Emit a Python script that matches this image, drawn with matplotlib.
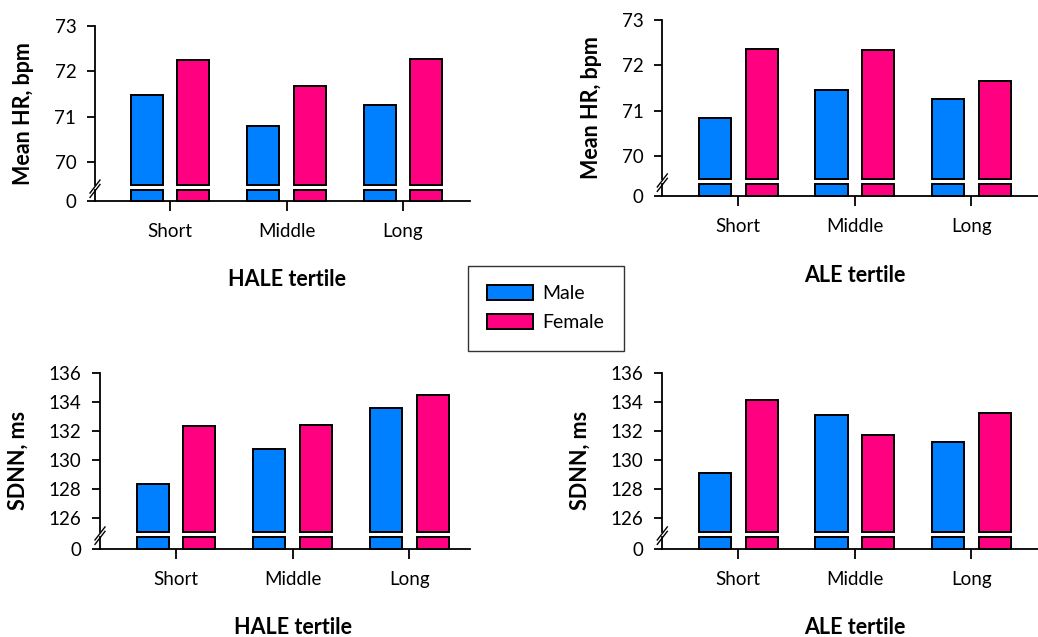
import matplotlib
matplotlib.use("Agg")
import matplotlib.pyplot as plt
import matplotlib.transforms as mtransforms
from matplotlib.lines import Line2D
import numpy as np

plt.rcParams['font.family'] = ['Lato', 'DejaVu Sans']

# ---------------- data ----------------
categories = ["Short", "Middle", "Long"]
series_names = ["Male", "Female"]

hale_hr_male = [71.48, 70.80, 71.25]
hale_hr_female = [72.25, 71.67, 72.26]
ale_hr_male = [70.84, 71.45, 71.26]
ale_hr_female = [72.35, 72.34, 71.65]

hale_sdnn_male = [128.32, 130.70, 133.56]
hale_sdnn_female = [132.33, 132.40, 134.46]
ale_sdnn_male = [129.08, 133.05, 131.22]
ale_sdnn_female = [134.13, 131.67, 133.19]

hr_ticks = [70, 71, 72, 73]
sdnn_ticks = [126, 128, 130, 132, 134, 136]

# ---------------- style ----------------
W, H = 1038, 637
BLUE = "#0080FF"
PINK = "#FF0080"
LW = 1.4
TICK_FS = 13.5
LABEL_FS = 15.5
fig = plt.figure(figsize=(W / 100, H / 100), dpi=100)


def rect(left, right, top, bottom):
    return [left / W, 1 - bottom / H, (right - left) / W, (bottom - top) / H]


def panel(male, female, ticks, ylow, ylabel, xlabel, axis_x, right, y_top, y_ub,
          y_lt, y_base, tick0, spacing, ylab_x, xlab_y):
    x = np.arange(len(categories))
    xlim = (-(tick0 - axis_x) / spacing, (right - tick0) / spacing)
    up = fig.add_axes(rect(axis_x, right, y_top, y_ub))
    lo = fig.add_axes(rect(axis_x, right, y_lt, y_base))
    for a in (up, lo):
        a.set_xlim(*xlim)
        a.spines['top'].set_visible(False)
        a.spines['right'].set_visible(False)
        a.spines['left'].set_linewidth(1.3)
        a.spines['bottom'].set_linewidth(1.3)
        a.tick_params(axis='y', direction='out', length=6, width=1.3,
                      labelsize=TICK_FS, pad=7.5)
        a.patch.set_alpha(0)
    up.spines['bottom'].set_visible(False)
    up.set_ylim(ylow, ticks[-1])
    up.set_yticks(ticks)
    up.set_xticks([])
    male_v = np.array(male)
    female_v = np.array(female)
    bw = 0.275
    off = 0.2
    b1 = up.bar(x - off, male_v - ylow, bottom=ylow, width=bw, color=BLUE,
                edgecolor='black', linewidth=LW, clip_on=False, label=series_names[0])
    b2 = up.bar(x + off, female_v - ylow, bottom=ylow, width=bw, color=PINK,
                edgecolor='black', linewidth=LW, clip_on=False, label=series_names[1])
    lo.set_ylim(0, 1)
    lo.set_yticks([0])
    lo.set_yticklabels(["0"])
    lo.bar(x - off, 1, width=bw, color=BLUE, edgecolor='black', linewidth=LW,
           clip_on=False)
    lo.bar(x + off, 1, width=bw, color=PINK, edgecolor='black', linewidth=LW,
           clip_on=False)
    lo.set_xticks(x)
    lo.set_xticklabels(categories)
    lo.tick_params(axis='x', direction='out', length=7, width=1.3,
                   labelsize=TICK_FS, pad=9)
    # axis break marks
    cy = (y_ub + y_lt) / 2 + 1
    for d in (-2.2, 2.2):
        fig.add_artist(Line2D([(axis_x - 5) / W, (axis_x + 5) / W],
                              [1 - (cy + d + 6.5) / H, 1 - (cy + d - 6.5) / H],
                              color='black', linewidth=1.0))
    # axis labels
    fig.text(ylab_x / W, 1 - ((y_top + y_base) / 2) / H, ylabel, rotation=90,
             ha='center', va='center', fontsize=LABEL_FS, fontweight='bold')
    trans = mtransforms.blended_transform_factory(lo.transData, fig.transFigure)
    lo.text(1, 1 - xlab_y / H, xlabel, transform=trans, ha='center', va='center',
            fontsize=LABEL_FS, fontweight='bold')
    return b1, b2


b1, b2 = panel(hale_hr_male, hale_hr_female, hr_ticks, 69.5, "Mean HR, bpm",
               "HALE tertile", 95, 470, 25.7, 185, 190.5, 201, 170, 116.5, 23.5, 280)
panel(ale_hr_male, ale_hr_female, hr_ticks, 69.5, "Mean HR, bpm",
      "ALE tertile", 662.3, 1038, 19.7, 179, 184.3, 196, 738.3, 116.5, 591.7, 275)
panel(hale_sdnn_male, hale_sdnn_female, sdnn_ticks, 125, "SDNN, ms",
      "HALE tertile", 100, 470, 372.7, 532, 537.3, 548.7, 176, 116.7, 18.3, 627)
panel(ale_sdnn_male, ale_sdnn_female, sdnn_ticks, 125, "SDNN, ms",
      "ALE tertile", 662.3, 1038, 372.7, 532, 537.3, 548.7, 738.3, 116.5, 580, 627)

leg = fig.legend(handles=[b1, b2], labels=series_names, loc='center',
                 bbox_to_anchor=(545.8 / W, 1 - 308.3 / H), fontsize=14,
                 frameon=True, fancybox=False, edgecolor='black',
                 handlelength=2.35, handleheight=0.77, handletextpad=0.5,
                 labelspacing=0.6, borderpad=1.0)
leg.get_frame().set_linewidth(1.0)

fig.savefig("out.png", dpi=100)
